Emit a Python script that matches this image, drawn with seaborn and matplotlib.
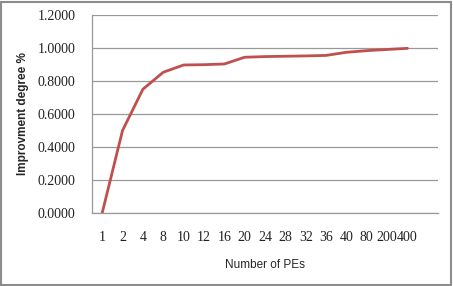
import matplotlib
matplotlib.use("Agg")
import matplotlib.pyplot as plt
import numpy as np
import pandas as pd
import seaborn as sns
from matplotlib.patches import Rectangle

# data
pe_labels = ["1", "2", "4", "8", "10", "12", "16", "20", "24", "28",
             "32", "36", "40", "80", "200", "400"]
improvement = [0.0, 0.50, 0.75, 0.853, 0.897, 0.899, 0.903, 0.944, 0.948,
               0.950, 0.952, 0.955, 0.974, 0.984, 0.991, 0.998]
y_ticks = [0.0, 0.2, 0.4, 0.6, 0.8, 1.0, 1.2]

df = pd.DataFrame({"pos": np.arange(len(pe_labels)), "improvement": improvement})

sns.set_style("white")
plt.rcParams["font.family"] = ["Liberation Serif", "DejaVu Sans"]

fig = plt.figure(figsize=(4.53, 2.86), dpi=100)
ax = fig.add_axes([92 / 453, 1 - 213 / 286, 346 / 453, 198 / 286])

sns.lineplot(data=df, x="pos", y="improvement", ax=ax, color="#C0504D",
             linewidth=2.0)

# one spare empty category slot on the right, as in the original
ax.set_xlim(-0.5, len(pe_labels) + 0.5)
ax.set_ylim(0, 1.2)
ax.set_yticks(y_ticks)
ax.set_yticklabels([f"{v:.4f}" for v in y_ticks])
ax.set_xticks(np.arange(len(pe_labels)))
ax.set_xticklabels(pe_labels)
ax.set_xticks(np.arange(-0.5, len(pe_labels) + 1, 1), minor=True)

ax.grid(axis="y", color="#999999", linewidth=0.9)
ax.grid(axis="x", visible=False)
for side in ["top", "right"]:
    ax.spines[side].set_visible(False)
for side in ["left", "bottom"]:
    ax.spines[side].set_color("#999999")
    ax.spines[side].set_linewidth(0.9)

ax.tick_params(axis="x", which="major", length=0, pad=13, labelsize=10,
               labelcolor="#222222")
ax.tick_params(axis="x", which="minor", length=4, color="#999999",
               direction="out")
ax.tick_params(axis="y", length=4, color="#999999", direction="out",
               pad=8, labelsize=10, labelcolor="#222222")

ax.set_xlabel("Number of PEs", family=["Liberation Sans"], fontsize=8.5,
              labelpad=11)
ax.set_ylabel("Improvment degree %", family=["Liberation Sans"],
              fontsize=8.5, fontweight="bold", labelpad=6)

fig.patches.append(Rectangle((0.003, 0.004), 0.992, 0.99,
                             transform=fig.transFigure, fill=False,
                             edgecolor="#8c8c8c", linewidth=1.5))

fig.savefig("out.png", dpi=100)
